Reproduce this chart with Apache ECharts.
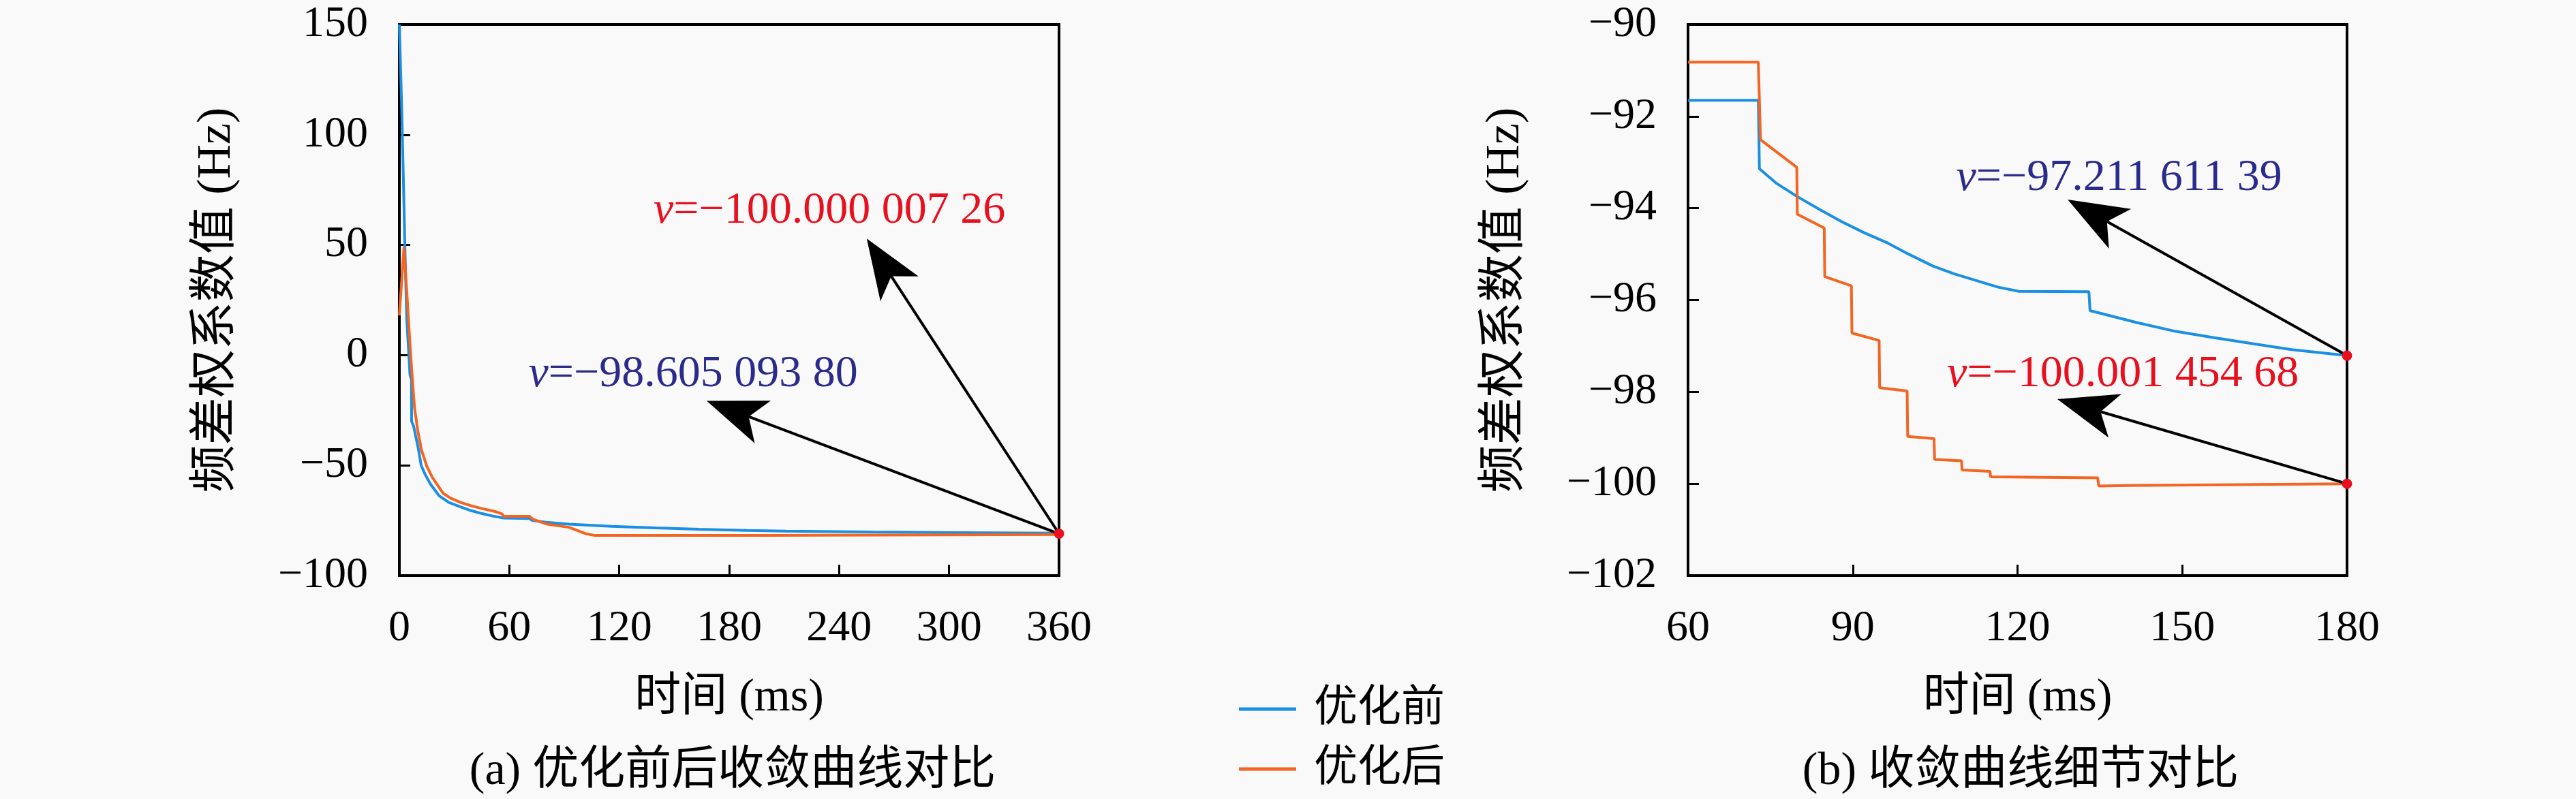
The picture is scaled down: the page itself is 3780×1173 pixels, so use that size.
<!DOCTYPE html>
<html>
<head>
<meta charset="utf-8">
<script src="https://cdn.jsdelivr.net/npm/echarts@6/dist/echarts.min.js"></script>
<style>
  html, body { margin: 0; padding: 0; background: #f9f9f9; }
  #chart { width: 3780px; height: 1173px; }
</style>
</head>
<body>
<div id="chart"></div>
<script>
// (a) whole run, 0-360 ms
const leftBefore = [[0,150],[1.2,115],[2.2,80],[3,50],[4,17],[5.2,0],[5.8,-9],[6.6,-11],[6.7,-30],[7.7,-32],[9,-37],[10.5,-43],[11.9,-50],[14,-54],[17,-58.5],[21.6,-63.7],[27,-66.8],[33.4,-68.8],[39,-70.5],[45.2,-71.9],[51,-73],[57,-73.9],[71,-74.1],[72.5,-75],[80,-75.8],[92.6,-76.7],[116,-77.7],[140,-78.4],[163.6,-79],[190,-79.5],[211,-79.8],[258.6,-80.2],[306,-80.5],[360,-80.8]];
const leftAfter = [[0,18],[2.5,49],[3.2,40],[4.2,27],[5.2,13],[6.2,0],[7.2,-12],[8.3,-24],[10,-34],[12,-42.8],[14.9,-50.2],[18,-55.5],[23.8,-62.6],[28,-64.9],[33.4,-66.8],[40,-68.5],[45.2,-69.6],[52.3,-70.95],[56,-72],[57,-73.1],[71,-73.1],[71.5,-72.5],[73,-74.5],[80.7,-76.7],[92.6,-78.1],[97,-79.5],[102,-81.1],[106.8,-81.8],[200,-81.8],[360,-81.4]];

// (b) detail, 60-180 ms
const rightBefore = [[60,-91.65],[72.8,-91.65],[73,-93.14],[76,-93.45],[79.8,-93.74],[84,-94.03],[88.1,-94.3],[92,-94.53],[96.4,-94.76],[100,-94.99],[104.6,-95.26],[108.5,-95.43],[112.9,-95.59],[116.5,-95.72],[120.3,-95.81],[133,-95.82],[133.2,-96.23],[141.7,-96.49],[148.7,-96.68],[155.8,-96.82],[162.8,-96.95],[169.9,-97.08],[180,-97.21]];
const rightAfter = [[60,-90.82],[72.8,-90.82],[73.2,-92.51],[79.8,-93.11],[79.9,-94.13],[84.8,-94.43],[84.9,-95.49],[89.75,-95.69],[89.85,-96.72],[94.8,-96.88],[94.9,-97.91],[99.9,-97.98],[100,-98.97],[104.8,-99.02],[104.9,-99.47],[109.8,-99.5],[109.9,-99.7],[115,-99.73],[115.1,-99.85],[134.6,-99.87],[134.8,-100.05],[140,-100.04],[180,-100.0]];

const seriesNames = ['优化前', '优化后'];
const leftXTicks = { min: 0, max: 360, interval: 60 };
const leftYTicks = { min: -100, max: 150, interval: 50 };
const rightXTicks = { min: 60, max: 180, interval: 30 };
const rightYTicks = { min: -102, max: -90, interval: 2 };

// end markers and annotations (data coords)
const leftEnd = [360, -81];
const leftTipAfter = [264, 41.5];
const leftTipBefore = [183, -25.5];
const leftTextAfter = { at: [234.7, 65.3], text: '100.000 007 26' };
const leftTextBefore = { at: [160.3, -8.8], text: '98.605 093 80' };

const rightEndBefore = [180, -97.21];
const rightEndAfter = [180, -100.0];
const rightTipBefore = [133.9, -94.13];
const rightTipAfter = [132.5, -98.34];
const rightTextBefore = { at: [138.5, -93.35], text: '97.211 611 39' };
const rightTextAfter = { at: [139.2, -97.62], text: '100.001 454 68' };

const blue = '#1a8fe3';
const orange = '#f26522';
const red = '#e8101e';
const navy = '#2b2b8c';
const font = "'Liberation Serif', 'Noto Sans CJK SC', serif";
const minus = v => String(v).replace('-', '\u2212');

function xAxis(idx, t) {
  return {
    type: 'value', gridIndex: idx, min: t.min, max: t.max, interval: t.interval,
    name: '时间 (ms)', nameLocation: 'middle', nameGap: 146,
    nameTextStyle: { fontFamily: font, fontSize: 68, color: '#000' },
    axisLine: { show: true, onZero: false, lineStyle: { color: '#000', width: 4 } },
    axisTick: { show: true, inside: true, length: 16, lineStyle: { color: '#000', width: 3 } },
    axisLabel: { fontFamily: font, fontSize: 64, color: '#000', margin: 46, formatter: minus },
    splitLine: { show: false }
  };
}
function yAxis(idx, t) {
  return {
    type: 'value', gridIndex: idx, min: t.min, max: t.max, interval: t.interval,
    name: '频差权系数值 (Hz)', nameLocation: 'middle', nameGap: 232,
    nameTextStyle: { fontFamily: font, fontSize: 70, color: '#000' },
    axisLine: { show: true, onZero: false, lineStyle: { color: '#000', width: 4 } },
    axisTick: { show: true, inside: true, length: 16, lineStyle: { color: '#000', width: 3 } },
    axisLabel: { fontFamily: font, fontSize: 64, color: '#000', margin: 46, formatter: minus },
    splitLine: { show: false }
  };
}

function arrow(from, to) {
  return [{ coord: from }, { coord: to }];
}
function note(n, color) {
  return {
    coord: n.at, symbolSize: 0,
    label: {
      show: true, position: 'inside',
      formatter: '{i|v}{n|=\u2212' + n.text + '}',
      rich: {
        i: { fontFamily: font, fontStyle: 'italic', fontSize: 66, color: color },
        n: { fontFamily: font, fontSize: 66, color: color }
      }
    }
  };
}
function dot(c) {
  return { coord: c, symbol: 'circle', symbolSize: 15, itemStyle: { color: red }, label: { show: false } };
}
const arrowStyle = {
  silent: true, animation: false,
  symbol: ['none', 'arrow'], symbolSize: [50, 88], symbolOffset: [0, [0, '-50%']],
  lineStyle: { color: '#000', width: 4, type: 'solid' },
  itemStyle: { color: '#000' },
  label: { show: false }
};

function line(name, data, idx, color) {
  return {
    name: name, type: 'line', xAxisIndex: idx, yAxisIndex: idx, data: data,
    showSymbol: false, symbol: 'none', color: color,
    lineStyle: { color: color, width: 4 }, z: 2
  };
}

const chart = echarts.init(document.getElementById('chart'));
chart.setOption({
  backgroundColor: '#f9f9f9',
  animation: false,
  grid: [
    { left: 586, top: 36, width: 968, height: 809, show: true, borderColor: '#000', borderWidth: 4, backgroundColor: 'transparent' },
    { left: 2477, top: 36, width: 967, height: 809, show: true, borderColor: '#000', borderWidth: 4, backgroundColor: 'transparent' }
  ],
  xAxis: [xAxis(0, leftXTicks), xAxis(1, rightXTicks)],
  yAxis: [yAxis(0, leftYTicks), yAxis(1, rightYTicks)],
  title: [
    { text: '(a) 优化前后收敛曲线对比', left: 1070, textAlign: 'center', top: 1094,
      textStyle: { fontFamily: font, fontSize: 68, fontWeight: 'normal', color: '#000' } },
    { text: '(b) 收敛曲线细节对比', left: 2960, textAlign: 'center', top: 1094,
      textStyle: { fontFamily: font, fontSize: 68, fontWeight: 'normal', color: '#000' } }
  ],
  legend: {
    orient: 'vertical', left: 1813, top: 1004, itemGap: 24,
    itemWidth: 84, itemHeight: 5, icon: 'rect',
    data: seriesNames,
    textStyle: { fontFamily: font, fontSize: 64, lineHeight: 64, color: '#000', padding: [0, 0, 0, 21] }
  },
  series: [
    line(seriesNames[0], leftBefore, 0, blue),
    Object.assign(line(seriesNames[1], leftAfter, 0, orange), {
      markLine: Object.assign({ data: [arrow(leftEnd, leftTipAfter), arrow(leftEnd, leftTipBefore)] }, arrowStyle),
      markPoint: { silent: true, data: [dot(leftEnd), note(leftTextAfter, red), note(leftTextBefore, navy)] }
    }),
    line(seriesNames[0], rightBefore, 1, blue),
    Object.assign(line(seriesNames[1], rightAfter, 1, orange), {
      markLine: Object.assign({ data: [arrow(rightEndBefore, rightTipBefore), arrow(rightEndAfter, rightTipAfter)] }, arrowStyle),
      markPoint: { silent: true, data: [dot(rightEndBefore), dot(rightEndAfter), note(rightTextBefore, navy), note(rightTextAfter, red)] }
    })
  ]
});
</script>
</body>
</html>
